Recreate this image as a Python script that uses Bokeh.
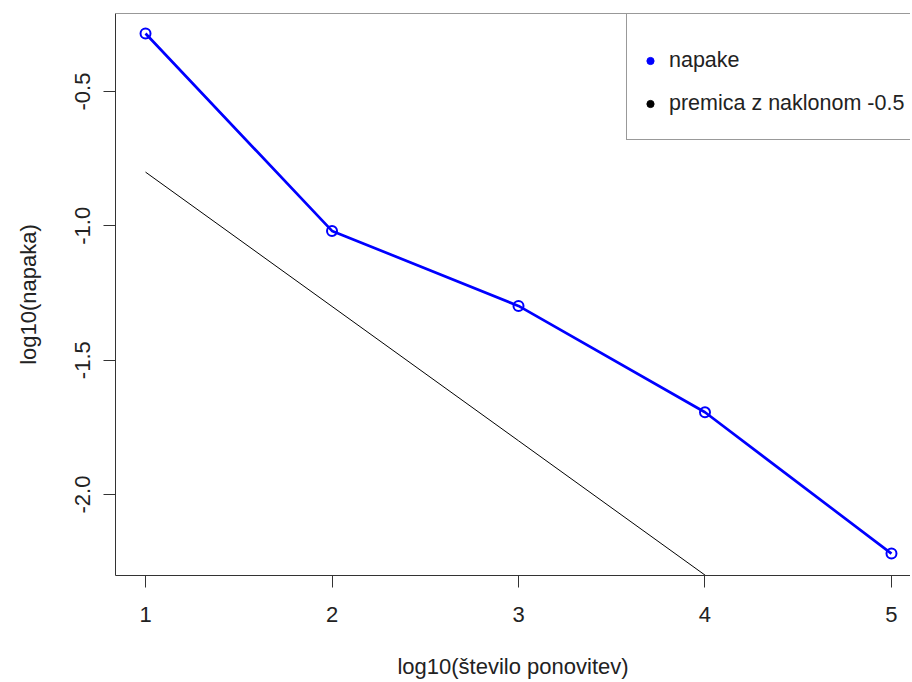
from bokeh.plotting import figure
from bokeh.models import Range1d, Legend, LegendItem, Span, FixedTicker, NumeralTickFormatter
from bokeh.embed import file_html
from bokeh.resources import INLINE

# data
log_n = [1, 2, 3, 4, 5]
log_err = [-0.284, -1.019, -1.298, -1.694, -2.22]
ref_x = [1, 2, 3, 4, 5]
ref_y = [-0.8, -1.3, -1.8, -2.3, -2.8]
x_ticks = [1, 2, 3, 4, 5]
y_ticks = [-2.0, -1.5, -1.0, -0.5]
labels = ["napake", "premica z naklonom -0.5"]

FONT = "Liberation Sans"
y0, y1 = -2.3015, -0.2097

p = figure(width=910, height=681, output_backend="svg", toolbar_location=None,
           x_range=Range1d(0.839, 5.102), y_range=Range1d(y0, y1),
           min_border_left=115, min_border_right=0, min_border_top=13, min_border_bottom=106)
p.outline_line_color = None
p.grid.visible = False
p.background_fill_color = "white"
p.border_fill_color = "white"

# series
p.line(log_n, log_err, line_color="#0000FF", line_width=2.7)
p.scatter(log_n, log_err, marker="circle", size=10, fill_color=None, line_color="#0000FF", line_width=2)
p.line(ref_x, ref_y, line_color="black", line_width=1)

# axes
for ax in (p.xaxis[0], p.yaxis[0]):
    ax.axis_line_color = "#333333"
    ax.axis_line_width = 1
    ax.major_tick_line_color = "#333333"
    ax.major_tick_in = 0
    ax.major_tick_out = 12
    ax.minor_tick_line_color = None
    ax.major_label_text_font = FONT
    ax.major_label_text_color = "#222222"
    ax.major_label_text_font_size = "22px"
    ax.axis_label_text_font = FONT
    ax.axis_label_text_font_style = "normal"
    ax.axis_label_text_font_size = "22px"
    ax.axis_label_text_color = "#222222"

p.xaxis.ticker = FixedTicker(ticks=x_ticks)
p.yaxis.ticker = FixedTicker(ticks=y_ticks)
p.yaxis.formatter = NumeralTickFormatter(format="0.0")
p.yaxis.major_label_orientation = "vertical"
p.xaxis.axis_label = "log10(število ponovitev)"
p.yaxis.axis_label = "log10(napaka)"
p.xaxis.major_label_standoff = 19
p.xaxis.axis_label_standoff = 29
p.yaxis.major_label_standoff = 13
p.yaxis.axis_label_standoff = 32

# top border of box
p.add_layout(Span(location=y1, dimension="width", line_color="#333333", line_width=1))

# legend (hidden renderers: their markers appear only in the legend)
d1 = p.scatter(log_n, log_err, marker="circle", size=8, color="#0000FF")
d2 = p.scatter(ref_x, ref_y, marker="circle", size=8, color="black")
d1.visible = False
d2.visible = False
leg = Legend(items=[LegendItem(label=labels[0], renderers=[d1]),
                    LegendItem(label=labels[1], renderers=[d2])],
             location=(511, 435), padding=14, spacing=0,
             glyph_width=18, glyph_height=43, label_height=43, label_standoff=10,
             label_text_font=FONT, label_text_font_size="21.5px", label_text_color="#222222",
             border_line_color="#333333", border_line_width=1, background_fill_alpha=1,
             title=" ", title_text_font_size="10px", title_standoff=0,
             inactive_fill_alpha=0)
p.add_layout(leg, "center")

open("out.html", "w").write(file_html(p, INLINE))
